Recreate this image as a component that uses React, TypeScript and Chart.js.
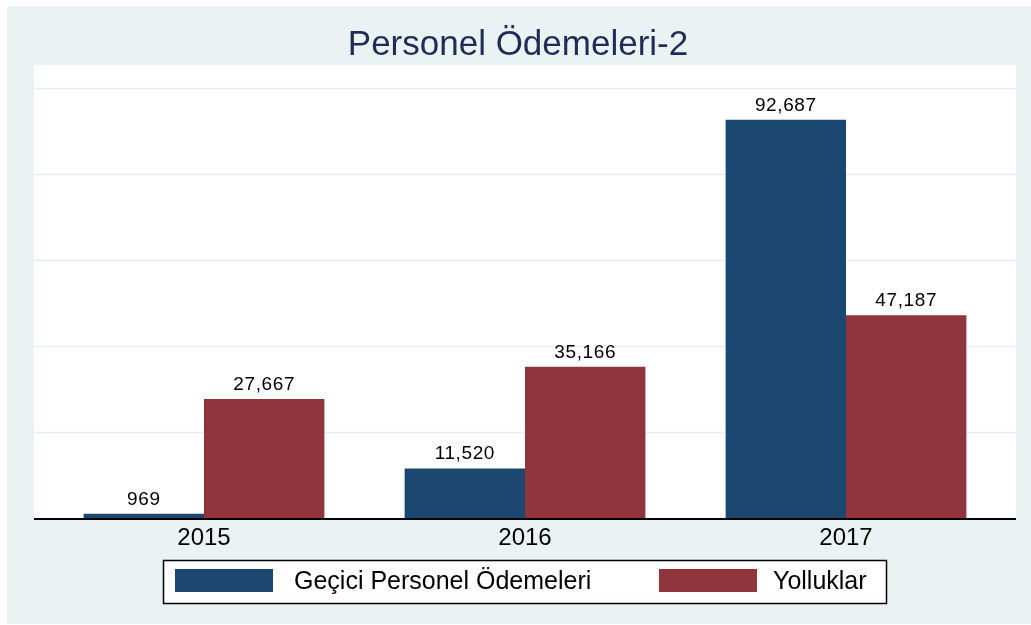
import React, { useEffect, useRef } from "react";
import { Chart, registerables } from "chart.js";

Chart.register(...registerables);

const titleText = "Personel Ödemeleri-2";
const categories = ["2015", "2016", "2017"];
const seriesNames = ["Geçici Personel Ödemeleri", "Yolluklar"];
const geciciValues = [969, 11520, 92687];
const yollukValues = [27667, 35166, 47187];
const gridValues = [20000, 40000, 60000, 80000, 100000];
const yMax = 105400;

const NAVY = "#1B4770";
const MAROON = "#90353B";
const BG = "#EAF2F3";
const FONT = "'Liberation Sans', Arial, Helvetica, sans-serif";

const fmt = (v: number) => v.toLocaleString("en-US");

const decorPlugin = {
  id: "decor",
  beforeDraw(chart: any) {
    const { ctx, width, height, chartArea } = chart;
    ctx.save();
    ctx.fillStyle = "#ffffff";
    ctx.fillRect(0, 0, width, height);
    ctx.fillStyle = BG;
    ctx.fillRect(7, 6, width - 7, height - 7);
    const left = 34;
    const right = 1016;
    ctx.fillStyle = "#ffffff";
    ctx.fillRect(left, chartArea.top, right - left, chartArea.bottom - chartArea.top);
    const y = chart.scales.y;
    ctx.strokeStyle = "#E6EEF1";
    ctx.lineWidth = 1.5;
    gridValues.forEach((g) => {
      const py = Math.round(y.getPixelForValue(g)) + 0.5;
      ctx.beginPath();
      ctx.moveTo(left, py);
      ctx.lineTo(right, py);
      ctx.stroke();
    });
    // title
    ctx.fillStyle = "#1F2D56";
    ctx.font = `35px ${FONT}`;
    ctx.textAlign = "center";
    ctx.textBaseline = "middle";
    ctx.fillText(titleText, 518, 45);
    ctx.restore();
  },
  afterDatasetsDraw(chart: any) {
    const { ctx } = chart;
    const y = chart.scales.y;
    ctx.save();
    ctx.strokeStyle = "#000000";
    ctx.lineWidth = 2;
    const by = y.getPixelForValue(0) + 1;
    ctx.beginPath();
    ctx.moveTo(34, by);
    ctx.lineTo(1016, by);
    ctx.stroke();
    ctx.fillStyle = "#000000";
    ctx.font = `19px ${FONT}`;
    try {
      (ctx as any).letterSpacing = "0.6px";
    } catch (e) {}
    ctx.textAlign = "center";
    ctx.textBaseline = "alphabetic";
    chart.data.datasets.forEach((ds: any, di: number) => {
      const meta = chart.getDatasetMeta(di);
      meta.data.forEach((el: any, i: number) => {
        ctx.fillText(fmt(ds.data[i]), el.x, el.y - 9);
      });
    });
    ctx.restore();
  },
  afterDraw(chart: any) {
    const { ctx } = chart;
    ctx.save();
    ctx.fillStyle = "#ffffff";
    ctx.fillRect(163, 560, 724, 44);
    ctx.strokeStyle = "#000000";
    ctx.lineWidth = 1.5;
    ctx.strokeRect(163.5, 560.5, 723, 43);
    const colors = [NAVY, MAROON];
    const swatchX = [175, 659];
    const textX = [294, 773];
    ctx.font = `25px ${FONT}`;
    ctx.textBaseline = "middle";
    ctx.textAlign = "left";
    seriesNames.forEach((name, i) => {
      ctx.fillStyle = colors[i];
      ctx.fillRect(swatchX[i], 569, 98, 23);
      ctx.fillStyle = "#000000";
      ctx.fillText(name, textX[i], 582);
    });
    ctx.restore();
  },
};

export default function App() {
  const ref = useRef<HTMLCanvasElement | null>(null);
  useEffect(() => {
    if (!ref.current) return;
    const chart = new Chart(ref.current, {
      type: "bar",
      data: {
        labels: categories,
        datasets: [
          {
            label: seriesNames[0],
            data: geciciValues,
            backgroundColor: NAVY,
            borderWidth: 0,
            categoryPercentage: 0.75,
            barPercentage: 1,
          },
          {
            label: seriesNames[1],
            data: yollukValues,
            backgroundColor: MAROON,
            borderWidth: 0,
            categoryPercentage: 0.75,
            barPercentage: 1,
          },
        ],
      },
      options: {
        responsive: false,
        animation: false,
        devicePixelRatio: 1,
        layout: { padding: { left: 43.5, right: 24.5, top: 65, bottom: 67 } },
        plugins: {
          legend: { display: false },
          tooltip: { enabled: false },
          title: { display: false },
        },
        scales: {
          x: {
            grid: { display: false, drawTicks: false },
            border: { display: false },
            ticks: { color: "#000000", font: { family: FONT, size: 24 }, padding: 6 },
            afterFit: (s: any) => {
              s.height = 40;
            },
          },
          y: { display: false, min: 0, max: yMax },
        },
      },
      plugins: [decorPlugin],
    });
    return () => chart.destroy();
  }, []);
  return (
    <div style={{ position: "fixed", left: 0, top: 0, width: 1031, height: 625 }}>
      <canvas ref={ref} width={1031} height={625} />
    </div>
  );
}
